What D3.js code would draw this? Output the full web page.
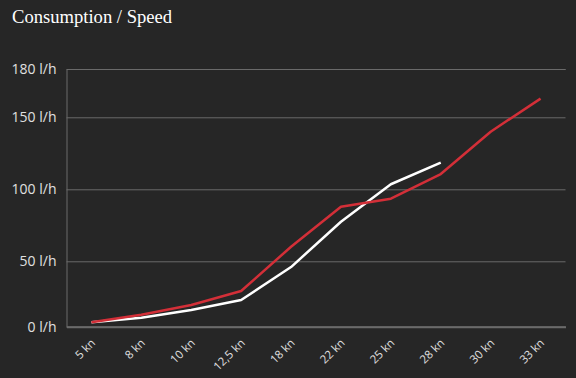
<!DOCTYPE html>
<html>
<head>
<meta charset="utf-8">
<script src="https://cdn.jsdelivr.net/npm/d3@7"></script>
<style>
  body { margin: 0; background: #262626; }
  svg { display: block; }
</style>
</head>
<body>
<div id="graph"></div>
<script>
// donnees du graphique
let speeds = ['5 kn', '8 kn', '10 kn', '12,5 kn', '18 kn', '22 kn', '25 kn', '28 kn', '30 kn', '33 kn'];
let redValues = [3.4, 9.2, 16.6, 27.3, 60.1, 87.9, 93.5, 110.6, 140, 161.6];
let whiteValues = [3.4, 6.9, 12.8, 20.4, 45.6, 77.5, 103.5, 118.5];
let yTicks = [0, 50, 100, 150, 180];

let width = 576;
let height = 378;
let plotLeft = 66.5;
let plotRight = 565.5;
let plotTop = 69;
let plotBottom = 326.7;

let svg = d3.select('#graph').append('svg')
    .attr('width', width)
    .attr('height', height);

svg.append('rect')
    .attr('width', width)
    .attr('height', height)
    .attr('fill', '#262626');

// titre
svg.append('text')
    .attr('x', 12)
    .attr('y', 23)
    .attr('fill', '#ffffff')
    .attr('font-family', 'Liberation Serif, Times New Roman, serif')
    .attr('font-size', 18.6)
    .text('Consumption / Speed');

let x = d3.scalePoint()
    .domain(speeds)
    .range([plotLeft, plotRight])
    .padding(0.5);

// echelle par morceaux pour coller aux graduations
let y = d3.scaleLinear()
    .domain([0, 50, 150, 180])
    .range([plotBottom, 261.3, 117.3, plotTop]);

// grille
let yAxis = d3.axisLeft(y)
    .tickValues(yTicks)
    .tickSize(-(plotRight - plotLeft))
    .tickPadding(10)
    .tickFormat(d => d + ' l/h');

let gy = svg.append('g')
    .attr('transform', 'translate(' + plotLeft + ',0)')
    .call(yAxis);
gy.select('.domain').attr('stroke', '#6a6a6a').attr('stroke-width', 1);
gy.selectAll('.tick line').attr('stroke', '#6a6a6a').attr('stroke-width', 1);
gy.selectAll('.tick text')
    .attr('fill', '#e0e0e0')
    .attr('font-family', 'Open Sans, sans-serif')
    .attr('font-size', 14);

// axe x
let xAxis = d3.axisBottom(x).tickSize(0).tickPadding(0);
let gx = svg.append('g')
    .attr('transform', 'translate(0,' + plotBottom + ')')
    .call(xAxis);
gx.select('.domain').attr('stroke', '#6a6a6a').attr('stroke-width', 2);
gx.selectAll('.tick text')
    .attr('fill', '#e0e0e0')
    .attr('font-family', 'Open Sans, sans-serif')
    .attr('font-size', 11.5)
    .attr('text-anchor', 'end')
    .attr('dy', 0)
    .attr('transform', 'translate(4,17) rotate(-45)');

let line = d3.line()
    .x((d, i) => x(speeds[i]))
    .y(d => y(d));

svg.append('path')
    .datum(whiteValues)
    .attr('fill', 'none')
    .attr('stroke', '#ffffff')
    .attr('stroke-width', 2.5)
    .attr('stroke-linejoin', 'round')
    .attr('d', line);

svg.append('path')
    .datum(redValues)
    .attr('fill', 'none')
    .attr('stroke', '#d32f38')
    .attr('stroke-width', 2.5)
    .attr('stroke-linejoin', 'round')
    .attr('d', line);
</script>
</body>
</html>
